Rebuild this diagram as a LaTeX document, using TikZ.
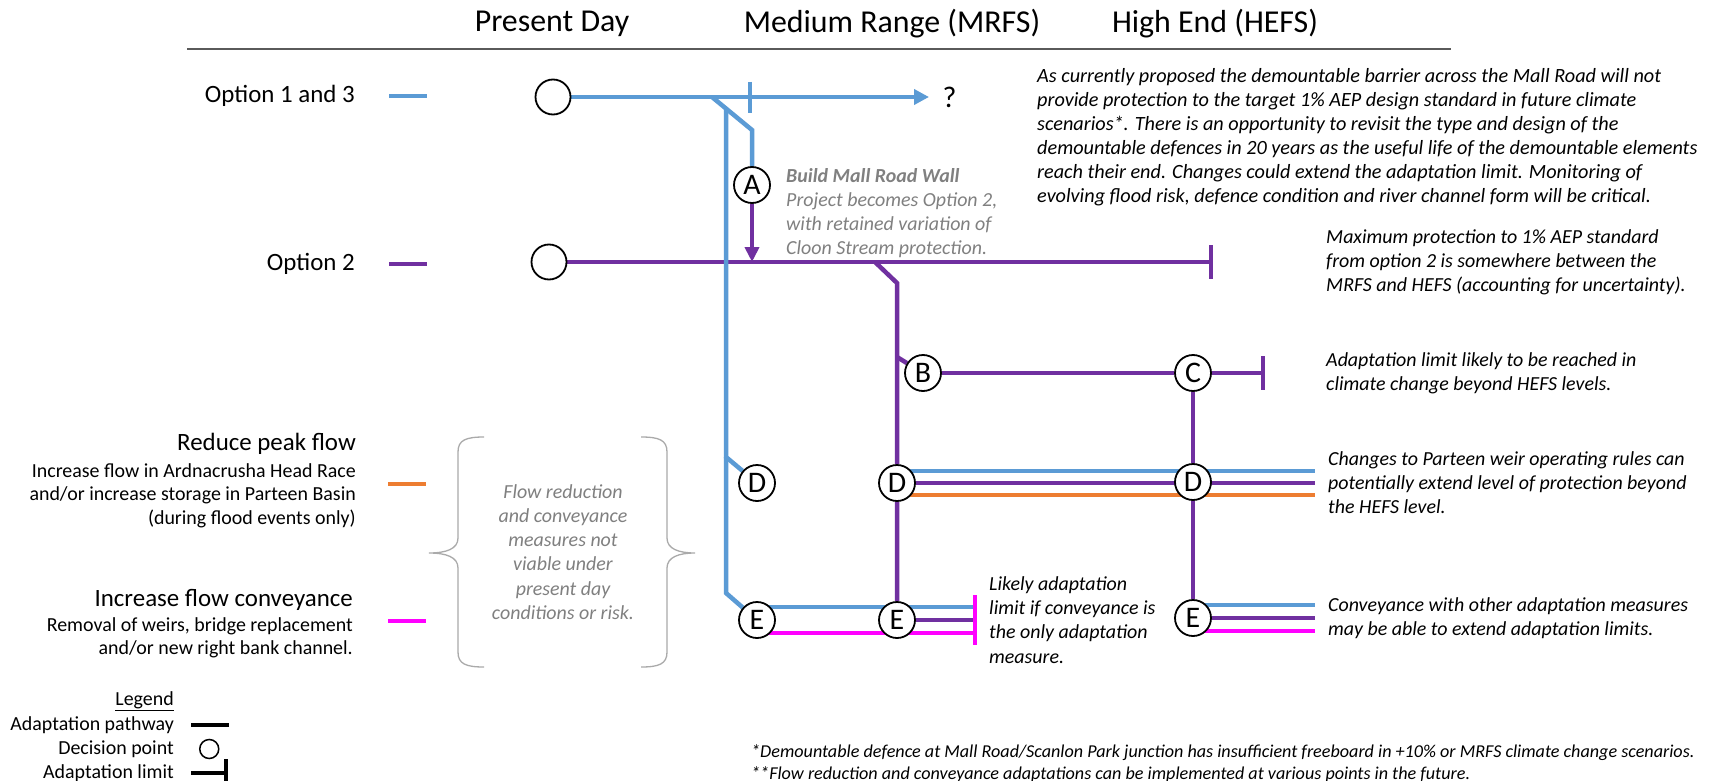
\documentclass[tikz,border=0pt]{standalone}
\usepackage{fontspec}
\setmainfont{Carlito}
\usepackage{tikz}
\usetikzlibrary{positioning,arrows.meta}
\definecolor{optblue}{RGB}{91,155,213}
\definecolor{optpurple}{RGB}{112,48,160}
\definecolor{floworange}{RGB}{237,125,49}
\definecolor{flowpink}{RGB}{255,0,255}
\definecolor{notegray}{RGB}{128,128,128}
\definecolor{bracegray}{RGB}{170,170,170}
\definecolor{rulegray}{RGB}{90,90,90}
\pgfdeclarelayer{routes}
\pgfsetlayers{routes,main}

\begin{document}
\begin{tikzpicture}[x=1bp, y=-1bp,
  route/.style={line width=4.5bp},
  limit/.style={-{Bar[width=34bp]}},
  dpoint/.style={circle, draw, line width=1.8bp, fill=white, minimum size=35bp, inner sep=0pt},
  letterpt/.style={dpoint, minimum size=36bp, font=\fontsize{30}{30}\selectfont},
  head/.style={font=\fontsize{32}{32}\selectfont},
  optlabel/.style={anchor=east, inner sep=0pt, font=\fontsize{25}{25}\selectfont},
  sublabel/.style={anchor=north east, align=right, inner sep=0pt, font=\fontsize{20}{24}\selectfont},
  legtext/.style={anchor=east, inner sep=0pt, font=\fontsize{20}{24}\selectfont},
  note/.style={anchor=north west, align=left, inner sep=0pt, font=\fontsize{20}{24.2}\selectfont\itshape}]

  \useasboundingbox (0,0) rectangle (1717,781);

  \node[head] (hpresent) at (552,24) {Present Day};
  \node[head] (hmedium) at (892,24) {Medium Range (MRFS)};
  \node[head] (hhigh) at (1215,24) {High End (HEFS)};
  \draw[rulegray, line width=1.6bp] (187,49) -- (1451,49);

  % option keys
  \node[optlabel] (opt13) at (355,96) {Option 1 and 3};
  \node[optlabel] (opt2) at (355,264) {Option 2};
  \node[optlabel] (reduce) at (356,444) {Reduce peak flow};
  \node[sublabel] (reducetxt) at (356,463) {Increase flow in Ardnacrusha Head Race\\and/or increase storage in Parteen Basin\\(during flood events only)};
  \node[optlabel] (convey) at (353,600) {Increase flow conveyance};
  \node[sublabel] (conveytxt) at (353,617) {Removal of weirs, bridge replacement\\and/or new right bank channel.};
  \draw[route, optblue] (389,96) -- (427,96);
  \draw[route, optpurple] (389,264) -- (427,264);
  \draw[route, floworange] (388,484) -- (426,484);
  \draw[route, flowpink] (388,621) -- (426,621);

  % decision points
  \node[dpoint] (dp13) at (553,97) {};
  \node[dpoint] (dp2) at (549,262) {};
  \node[letterpt] (A) at (752,185) {A};
  \node[letterpt] (B) at (923,373) {B};
  \node[letterpt] (C) at (1193,373) {C};
  \node[letterpt] (D1) at (757,483) {D};
  \node[letterpt] (D2) at (897,483) {D};
  \node[letterpt] (D3) at (1193,482) {D};
  \node[letterpt] (E1) at (757,620) {E};
  \node[letterpt] (E2) at (897,620) {E};
  \node[letterpt] (E3) at (1193,618) {E};

  \coordinate (split13) at (712,97);
  \coordinate (qend) at (929,97);
  \coordinate (tick13) at (750,97);
  \coordinate (kinkA) at (752,130);
  \coordinate (kinkL) at (726,109);
  \coordinate (kinkD1) at (726,457);
  \coordinate (kinkE1) at (726,593);
  \coordinate (lim2) at (1213,262);
  \coordinate (split2) at (875,262);
  \coordinate (kinkB) at (897,283);
  \coordinate (kinkBB) at (897,357);
  \coordinate (limC) at (1265,373);
  \coordinate (dend) at (1315,483);
  \coordinate (elim) at (975,620);
  \coordinate (eend) at (1315,618);

  \begin{pgfonlayer}{routes}
    \fill[white] (0,0) rectangle (1717,781);
    \draw[route, optpurple, limit] (dp2) -- (lim2);
    \draw[route, optpurple] (split2) -- (kinkB) -- (D2) -- (E2);
    \draw[route, optpurple] (kinkBB) -- (B);
    \draw[route, optpurple, limit] (B) -- (C) -- (limC);
    \draw[route, optpurple] (C) -- (D3) -- (E3);
    \draw[route, optpurple, -{Triangle[length=15bp, width=14bp]}] (A) -- (A |- dp2);
    \draw[route, optblue] ([yshift=12bp]D2.center) -- ([yshift=12bp]dend);
    \draw[route, optpurple] (D2) -- (dend);
    \draw[route, floworange] ([yshift=-12bp]D2.center) -- ([yshift=-12bp]dend);
    \draw[route, optblue] ([yshift=13bp]E1.center) -- ([yshift=13bp]elim);
    \draw[route, optpurple] (E2) -- (elim);
    \draw[route, flowpink] ([yshift=-13bp]E1.center) -- ([yshift=-13bp]elim);
    \draw[route, flowpink] ([yshift=25bp]elim) -- ([yshift=-25bp]elim);
    \draw[route, optblue] ([yshift=13bp]E3.center) -- ([yshift=13bp]eend);
    \draw[route, optpurple] (E3) -- (eend);
    \draw[route, flowpink] ([yshift=-13bp]E3.center) -- ([yshift=-13bp]eend);
    \draw[route, optblue, -{Triangle[length=15bp, width=15bp]}] (dp13) -- (qend);
    \draw[route, optblue] ([yshift=15bp]tick13) -- ([yshift=-16bp]tick13);
    \draw[route, optblue] (split13) -- (kinkA) -- (A);
    \draw[route, optblue] (kinkL) -- (kinkD1) -- (D1);
    \draw[route, optblue] (kinkD1) -- (kinkE1) -- (E1);
  \end{pgfonlayer}

  \node[right=10bp of qend, font=\fontsize{30}{30}\selectfont] (qmark) {?};

  % notes
  \node[note, text=notegray] (noteA) at (786,168) {\textbf{Build Mall Road Wall}\\Project becomes Option 2,\\with retained variation of\\Cloon Stream protection.};
  \node[note, font=\fontsize{20.3}{24.2}\selectfont\itshape] (note13) at (1037,68) {As currently proposed the demountable barrier across the Mall Road will not\\provide protection to the target 1\% AEP design standard in future climate\\scenarios*. There is an opportunity to revisit the type and design of the\\demountable defences in 20 years as the useful life of the demountable elements\\reach their end. Changes could extend the adaptation limit. Monitoring of\\evolving flood risk, defence condition and river channel form will be critical.};
  \node[note, right=113bp of lim2] (note2) {Maximum protection to 1\% AEP standard\\from option 2 is somewhere between the\\MRFS and HEFS (accounting for uncertainty).};
  \node[note, right=61bp of limC] (noteC) {Adaptation limit likely to be reached in\\climate change beyond HEFS levels.};
  \node[note, right=13bp of dend] (noteD) {Changes to Parteen weir operating rules can\\potentially extend level of protection beyond\\the HEFS level.};
  \node[note, right=13bp of eend] (noteE3) {Conveyance with other adaptation measures\\may be able to extend adaptation limits.};
  \node[note, right=14bp of elim] (noteE2) {Likely adaptation\\limit if conveyance is\\the only adaptation\\measure.};
  \node[note, anchor=center, align=center, text=notegray] (bracetxt) at (563,552) {Flow reduction\\and conveyance\\measures not\\viable under\\present day\\conditions or risk.};
  \node[note, font=\fontsize{18.2}{22.5}\selectfont\itshape] (foot) at (751,744) {*Demountable defence at Mall Road/Scanlon Park junction has insufficient freeboard in +10\% or MRFS climate change scenarios.\\**Flow reduction and conveyance adaptations can be implemented at various points in the future.};

  \draw[bracegray, line width=1.3bp] (484,437) .. controls (466,437) and (458,440) .. (458,452) -- (458,538) .. controls (458,549) and (446,553) .. (429,553) .. controls (446,553) and (458,557) .. (458,568) -- (458,652) .. controls (458,664) and (466,667) .. (484,667);
  \draw[bracegray, line width=1.3bp] (641,437) .. controls (659,437) and (667,440) .. (667,452) -- (667,538) .. controls (667,549) and (679,553) .. (695,553) .. controls (679,553) and (667,557) .. (667,568) -- (667,652) .. controls (667,664) and (659,667) .. (641,667);

  % legend
  \node[legtext] (leghead) at (174,701) {\underline{Legend}};
  \node[legtext] (legpath) at (174,725) {Adaptation pathway};
  \node[legtext] (legdec) at (174,749) {Decision point};
  \node[legtext] (leglim) at (174,773) {Adaptation limit};
  \draw[route] ([xshift=17bp]legpath.east) -- ++(38,0);
  \node[circle, draw, line width=1.5bp, minimum size=19bp, inner sep=0pt, right=25bp of legdec] (legcircle) {};
  \draw[route, -{Bar[width=28bp]}] ([xshift=17bp]leglim.east) -- ++(37,0);
\end{tikzpicture}
\end{document}
